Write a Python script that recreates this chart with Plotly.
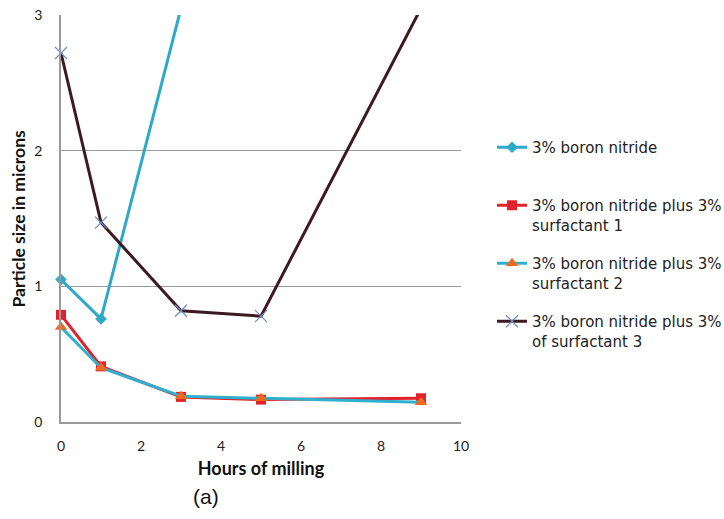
import plotly.graph_objects as go

hours = [0, 1, 3, 5, 9]
bn = [1.05, 0.76, 3.05, 6.0, 9.0]
bn_s1 = [0.79, 0.41, 0.185, 0.165, 0.175]
bn_s2 = [0.70, 0.40, 0.19, 0.175, 0.145]
bn_s3 = [2.72, 1.47, 0.82, 0.78, 3.05]

names = [
    "3% boron nitride<br> ",
    "3% boron nitride plus 3%<br>surfactant 1",
    "3% boron nitride plus 3%<br>surfactant 2",
    "3% boron nitride plus 3%<br>of surfactant 3",
]

fig = go.Figure()
fig.add_trace(go.Scatter(x=hours, y=bn, name=names[0], legendgroup="a", mode="lines+markers",
                         cliponaxis=False,
                         line=dict(color="#2FA9C8", width=3),
                         marker=dict(symbol="diamond", size=9, color="#2FA9C8")))
fig.add_trace(go.Scatter(x=hours, y=bn_s1, name=names[1], legendgroup="b", mode="lines+markers",
                         cliponaxis=False,
                         line=dict(color="#E2222B", width=3),
                         marker=dict(symbol="square", size=10, color="#E2222B")))
fig.add_trace(go.Scatter(x=hours, y=bn_s2, name=names[2], legendgroup="c", mode="lines+markers",
                         cliponaxis=False,
                         line=dict(color="#2FB0CF", width=3),
                         marker=dict(symbol="triangle-up", size=11, color="#F06A1E")))
fig.add_trace(go.Scatter(x=hours, y=bn_s3, name=names[3], legendgroup="d", mode="lines+markers",
                         cliponaxis=False,
                         line=dict(color="#3D1A22", width=3),
                         marker=dict(symbol="x-thin", size=12, line=dict(width=1.2, color="#6F8BC6"),
                                     color="#6F8BC6")))

fig.update_layout(
    width=724, height=519,
    margin=dict(l=61, r=263, t=15, b=97),
    paper_bgcolor="white", plot_bgcolor="white",
    showlegend=True,
    legend=dict(xref="container", yref="container", x=0.6796, y=0.7476,
                xanchor="left", yanchor="top", valign="top",
                tracegroupgap=16, font=dict(family="DejaVu Sans", size=15, color="#222222"),
                bgcolor="rgba(0,0,0,0)"),
    font=dict(family="Lato", color="#222222"),
)
fig.update_xaxes(range=[0, 10], dtick=2, tick0=0, showgrid=False, zeroline=False, automargin=False,
                 showline=True, linecolor="#9A9A9A", linewidth=1.5, ticks="", ticklabelstandoff=10,
                 tickfont=dict(family="Lato", size=14, color="#222222"),
                 title=dict(text="<b>Hours of milling</b>", font=dict(family="Lato", size=18, color="#111111"),
                            standoff=10))
fig.update_yaxes(range=[0, 3], dtick=1, tick0=0, showgrid=True, gridcolor="#9A9A9A", gridwidth=1,
                 zeroline=False, showline=True, linecolor="#9A9A9A", linewidth=1.5, ticks="", automargin=False,
                 tickfont=dict(family="Lato", size=14, color="#222222"), ticklabelstandoff=14)
fig.add_annotation(text="<b>Particle size in microns</b>", xref="paper", yref="paper",
                   x=-0.1075, y=0.5, xanchor="center", yanchor="middle", textangle=-90,
                   showarrow=False, font=dict(family="Lato", size=17.5, color="#111111"))
fig.add_annotation(text="(a)", xref="paper", yref="paper", x=0.362, y=-0.184, xanchor="center",
                   yanchor="middle", showarrow=False,
                   font=dict(family="Liberation Sans", size=21, color="#111111"))

fig.write_html("out.html")
